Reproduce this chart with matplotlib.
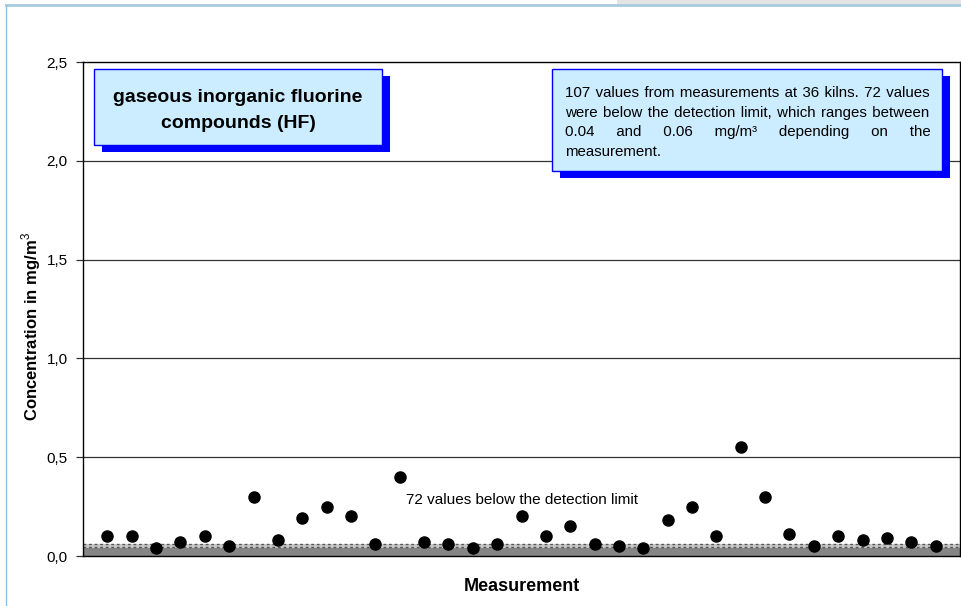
import matplotlib
matplotlib.use("Agg")
import matplotlib.pyplot as plt
from matplotlib.patches import Rectangle
from matplotlib import transforms

plt.rcParams['font.family'] = ['Liberation Sans', 'DejaVu Sans']
plt.rcParams['mathtext.fontset'] = 'custom'
plt.rcParams['mathtext.rm'] = 'Liberation Sans'
plt.rcParams['mathtext.bf'] = 'Liberation Sans:bold'

# ---- data ----
values = [0.10, 0.10, 0.04, 0.07, 0.10, 0.05, 0.30, 0.08, 0.19, 0.25,
          0.20, 0.06, 0.40, 0.07, 0.06, 0.04, 0.06, 0.20, 0.10, 0.15,
          0.06, 0.05, 0.04, 0.18, 0.25, 0.10, 0.55, 0.30, 0.11, 0.05,
          0.10, 0.08, 0.09, 0.07, 0.05]
measurement = list(range(1, len(values) + 1))
det_low, det_high = 0.04, 0.06
yticks = [0.0, 0.5, 1.0, 1.5, 2.0, 2.5]
ytick_labels = ["0,0", "0,5", "1,0", "1,5", "2,0", "2,5"]
title_lines = ["gaseous inorganic fluorine", "compounds (HF)"]
note_lines = ["107 values from measurements at 36 kilns. 72 values",
              "were below the detection limit, which ranges between",
              "0.04 and 0.06 mg/m³ depending on the",
              "measurement."]
below_text = "72 values below the detection limit"

W, H = 962, 606
fig = plt.figure(figsize=(W / 100, H / 100), dpi=100)
fig.patch.set_facecolor('white')

def fx(px):
    return px / W

def fy(py):
    return 1 - py / H

# frame decorations of the page
fig.add_artist(Rectangle((fx(617), fy(5)), 1 - fx(617), 5 / H, transform=fig.transFigure,
                         facecolor='#E4E4E4', edgecolor='none'))
fig.add_artist(plt.Line2D([fx(6), 1], [fy(5), fy(5)], transform=fig.transFigure,
                          color='#A9CBE0', lw=2))
fig.add_artist(plt.Line2D([fx(6), fx(6)], [fy(5), 0], transform=fig.transFigure,
                          color='#8EC0E6', lw=1))

ax = fig.add_axes([fx(83), fy(556), (960 - 83) / W, (556 - 62) / H])
ax.set_xlim(0, 36)
ax.set_ylim(0, 2.5)

ax.axhspan(0, det_low, color='#858585', zorder=1, lw=0)
ax.axhspan(det_low, det_high, color='#C8C8C8', zorder=1, lw=0)
ax.axhline(det_high, color='#555555', lw=1, ls=(0, (2, 2)), zorder=2)
ax.axhline(det_low + 0.005, color='#555555', lw=1, ls=(0, (2, 2)), zorder=2)

for yv in yticks[1:-1]:
    ax.axhline(yv, color='#333333', lw=0.9, zorder=1)

ax.plot(measurement, values, 'o', color='black', markersize=8, zorder=4)

ax.set_yticks(yticks)
ax.set_yticklabels(ytick_labels)
ax.set_xticks([])
ax.tick_params(axis='y', length=5, width=0.9, pad=6, labelsize=11, color='#333333')
for s in ax.spines.values():
    s.set_linewidth(1.0)
    s.set_color('black')

ax.set_ylabel("Concentration in mg/m$^{3}$", fontsize=12, fontweight='bold')
ax.yaxis.set_label_coords(-0.046, 0.464)
ax.set_xlabel("Measurement", fontsize=13, fontweight='bold')
ax.xaxis.set_label_coords(0.5, -0.044)

ax.text(18, 0.283, below_text, ha='center', va='center', fontsize=11, zorder=5)

# ---- boxes ----
def box(x0, y0, x1, y1):
    shadow_tr = transforms.offset_copy(fig.transFigure, fig=fig, x=8, y=-7, units='dots')
    fig.add_artist(Rectangle((fx(x0), fy(y1)), (x1 - x0) / W, (y1 - y0) / H,
                             transform=shadow_tr, facecolor='#0000FF', edgecolor='none', zorder=6))
    fig.add_artist(Rectangle((fx(x0), fy(y1)), (x1 - x0) / W, (y1 - y0) / H,
                             transform=fig.transFigure, facecolor='#CCECFF',
                             edgecolor='#0000FF', lw=1, zorder=7))

box(94, 69, 382, 145)
fig.text(fx(238), fy(101.5), title_lines[0], ha='center', va='baseline', fontsize=14,
         fontweight='bold', zorder=8)
fig.text(fx(238), fy(127.5), title_lines[1], ha='center', va='baseline', fontsize=14,
         fontweight='bold', zorder=8)

box(552, 69, 942, 171)
note_fs = 10.8
left_px, right_px = 565, 930
line_base = [97, 116.5, 136, 155.5]
renderer = fig.canvas.get_renderer()

def text_width(s):
    t = fig.text(0, 0, s, fontsize=note_fs)
    w = t.get_window_extent(renderer).width
    t.remove()
    return w

sp_w = text_width("a a") - text_width("aa")
hs_w = text_width("a\u200aa") - text_width("aa")

for i, line in enumerate(note_lines):
    if i == len(note_lines) - 1:
        s = line
    else:
        words = line.split(' ')
        word_sum = sum(text_width(w) for w in words)
        gap = (right_px - left_px - word_sum) / (len(words) - 1)
        n_sp = max(1, int(gap // sp_w))
        rest = gap - n_sp * sp_w
        n_hs = max(0, int(round(rest / hs_w))) if hs_w > 0 else 0
        sep = ' ' * n_sp + '\u200a' * n_hs
        s = sep.join(words)
    fig.text(fx(left_px), fy(line_base[i]), s, ha='left', va='baseline',
             fontsize=note_fs, zorder=8)

fig.savefig("out.png", dpi=100)
